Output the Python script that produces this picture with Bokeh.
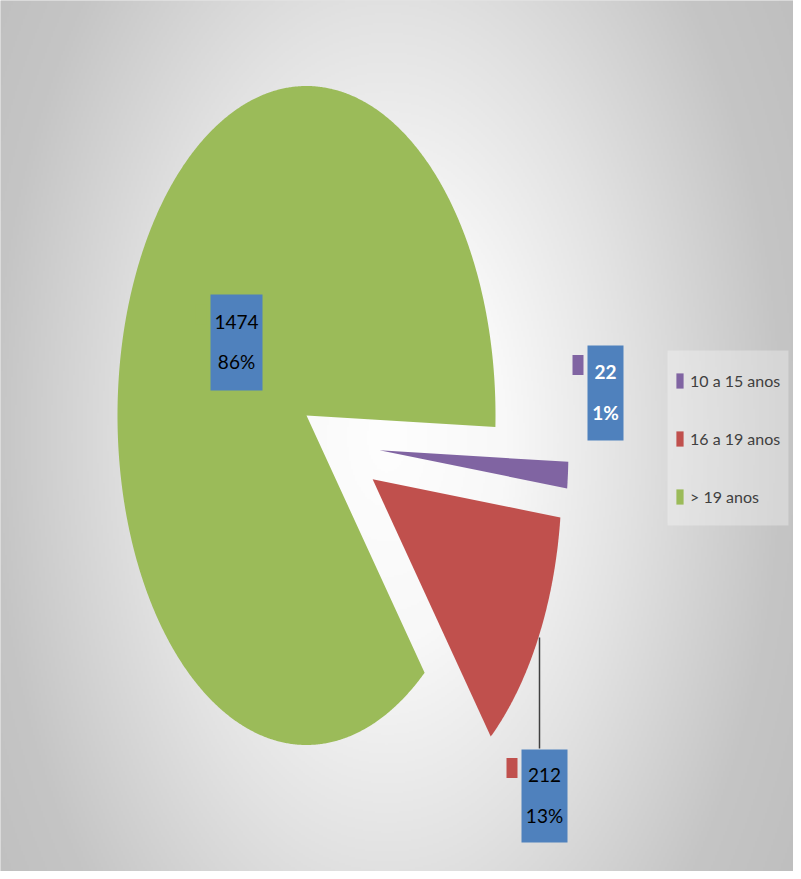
import numpy as np
from bokeh.plotting import figure
from bokeh.models import Range1d, Legend, LegendItem
from bokeh.core.properties import value
from bokeh.embed import file_html
from bokeh.resources import INLINE

# ---------------- data ----------------
categories = ["10 a 15 anos", "16 a 19 anos", "> 19 anos"]
counts = [22, 212, 1474]
pct_labels = ["1%", "13%", "86%"]

# ---------------- style / layout ----------------
colors = ["#8064A2", "#C0504D", "#9BBB59"]
label_box_color = "#4F81BD"
label_text_colors = ["white", "black", "black"]
label_text_styles = ["bold", "normal", "normal"]

W, H = 793, 871
CX, CY, RX, RY = 306, 415, 189, 329.5     # pie centre / radii (px, y down)
START = 92.0                               # first slice angle, clockwise from 12 o'clock
explode = [0.40, 0.40, 0.0]
explode_dir_adjust = [11.0, 0.0, 0.0]

# label boxes (centre x, centre y, w, h) in px, y down
label_box_cx = [605, 544, 236]
label_box_cy = [392.5, 795.5, 342]
label_box_w = [36, 46, 52]
label_box_h = [95, 93, 96]
label_line_off = 21


def fy(y):
    return H - np.asarray(y, dtype=float)


p = figure(width=W, height=H, output_backend="svg", toolbar_location=None,
           x_range=Range1d(0, W), y_range=Range1d(0, H), min_border=0)
p.axis.visible = False
p.grid.visible = False
p.outline_line_color = None
p.background_fill_color = "#c8c8c8"
p.border_fill_color = "#c8c8c8"

# background radial gradient
nx, ny = W // 2, H // 2
gx = (np.arange(nx) + 0.5) * W / nx
gy_up = (np.arange(ny) + 0.5) * H / ny
GX, GY = 387, 437
GXX, GYY = np.meshgrid(gx, H - gy_up)
d = np.sqrt((GXX - GX) ** 2 + ((GYY - GY) / 1.74) ** 2)
gray = np.interp(d, [0, 120, 244, 393, 465, 700], [254, 248, 226, 197, 192, 190]).astype(np.uint8)
img = np.empty((ny, nx), dtype=np.uint32)
view = img.view(dtype=np.uint8).reshape((ny, nx, 4))
view[..., 0] = gray
view[..., 1] = gray
view[..., 2] = gray
view[..., 3] = 255
p.image_rgba(image=[img], x=0, y=0, dw=W, dh=H)

# slices
total = float(sum(counts))
angles = np.array(counts) / total * 360.0
starts = START + np.concatenate([[0.0], np.cumsum(angles)[:-1]])
ends = starts + angles
xs, ys = [], []
for s, e, ex, adj in zip(starts, ends, explode, explode_dir_adjust):
    mid = np.radians((s + e) / 2 + adj)
    ox = CX + ex * RX * np.sin(mid)
    oy = CY - ex * RY * np.cos(mid)
    t = np.radians(np.linspace(s, e, max(int((e - s) * 3), 12)))
    px = np.concatenate([[ox], ox + RX * np.sin(t)])
    py = np.concatenate([[oy], oy - RY * np.cos(t)])
    xs.append(px.tolist())
    ys.append(fy(py).tolist())

r = p.patches(xs=xs, ys=ys, fill_color=colors, line_color=None)

# leader line for the 16-19 label
p.line(x=[539, 539], y=fy([637, 748]).tolist(), line_color="#404040", line_width=1.5)

# data labels
p.rect(x=label_box_cx, y=fy(label_box_cy).tolist(), width=label_box_w, height=label_box_h,
       fill_color=label_box_color, line_color=None)
key_x = [bx - bw / 2 - 9.5 for bx, bw in zip(label_box_cx, label_box_w)]
key_y = [by - 28 for by in label_box_cy]
p.rect(x=key_x, y=fy(key_y).tolist(), width=11, height=20, fill_color=colors, line_color=None)

for i in range(3):
    for txt, dy in ((str(counts[i]), -label_line_off), (pct_labels[i], label_line_off - 2)):
        p.text(x=[label_box_cx[i]], y=fy([label_box_cy[i] + dy]).tolist(), text=[txt],
               text_align="center", text_baseline="middle",
               text_font=value("Lato"), text_font_size=value("19px"),
               text_font_style=label_text_styles[i], text_color=label_text_colors[i])

# legend box
p.quad(left=[667], right=[788], top=fy([350]).tolist(), bottom=fy([525]).tolist(),
       fill_color="white", fill_alpha=0.3, line_color=None)

legend = Legend(items=[LegendItem(label=c, renderers=[r], index=i) for i, c in enumerate(categories)],
                location=(667, 357), padding=8, margin=0, spacing=39,
                glyph_width=9, glyph_height=19, label_height=19, label_standoff=6,
                background_fill_alpha=0, border_line_alpha=0,
                label_text_font="Lato", label_text_font_size="16px", label_text_color="#404040")
p.add_layout(legend)

open("out.html", "w").write(file_html(p, INLINE))
